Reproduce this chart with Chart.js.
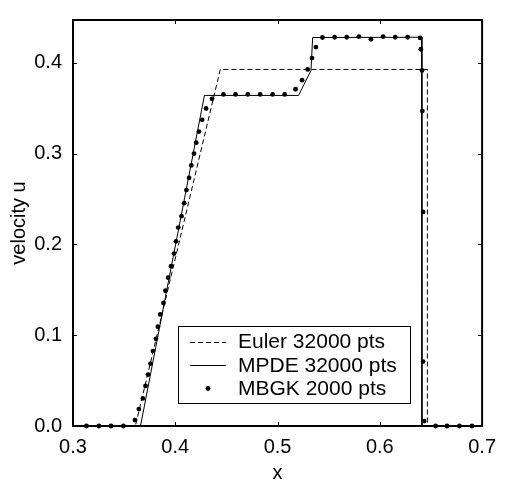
<!DOCTYPE html>
<html><head><meta charset="utf-8">
<script src="https://cdn.jsdelivr.net/npm/chart.js@4"></script>
<style>html,body{margin:0;padding:0;background:#fff}</style>
</head><body>
<canvas id="c" width="505" height="485"></canvas>
<script>
// ---- data ----
const xTicks = [0.3, 0.4, 0.5, 0.6, 0.7];
const yTicks = [0.0, 0.1, 0.2, 0.3, 0.4];
const xMin = 0.3, xMax = 0.7, yMin = 0, yMax = 0.4473;

const eulerLabel = 'Euler 32000 pts';
const eulerX = [0.3, 0.361, 0.444, 0.6465, 0.6465, 0.7];
const eulerU = [0, 0, 0.3928, 0.3928, 0, 0];

const mpdeLabel = 'MPDE 32000 pts';
const mpdeX = [0.3, 0.366, 0.4285, 0.5205, 0.5327, 0.5343, 0.6408, 0.6412, 0.7];
const mpdeU = [0, 0, 0.3642, 0.3642, 0.3917, 0.4280, 0.4283, 0, 0];

const mbgkLabel = 'MBGK 2000 pts';
const mbgkX = [0.3132, 0.3253, 0.3372, 0.3493, 0.3606, 0.3644, 0.3683, 0.3709, 0.3734, 0.3757,
  0.3782, 0.3811, 0.3830, 0.3853, 0.3885, 0.3904, 0.3930, 0.3959, 0.3988, 0.4007,
  0.4029, 0.4061, 0.4087, 0.4109, 0.4135, 0.4157, 0.4183, 0.4205, 0.4231, 0.4263,
  0.4301, 0.4359, 0.4471, 0.4589, 0.4709, 0.4830, 0.4952, 0.5070, 0.5176, 0.5240,
  0.5295, 0.5337, 0.5375, 0.5439, 0.5558, 0.5676, 0.5795, 0.5913, 0.6032, 0.6151,
  0.6272, 0.6394, 0.6401, 0.6413, 0.6416, 0.6423, 0.6423, 0.6433, 0.6545, 0.6657,
  0.6779, 0.6901];
const mbgkU = [0, 0, 0, 0, 0.0065, 0.0186, 0.0304, 0.0441, 0.0567, 0.0688,
  0.0825, 0.0960, 0.1094, 0.1229, 0.1355, 0.1491, 0.1634, 0.1760, 0.1900, 0.2035,
  0.2186, 0.2312, 0.2455, 0.2599, 0.2734, 0.2871, 0.3000, 0.3122, 0.3244, 0.3373,
  0.3498, 0.3605, 0.3653, 0.3653, 0.3653, 0.3653, 0.3653, 0.3653, 0.3710, 0.3810,
  0.3928, 0.4054, 0.4175, 0.4280, 0.4283, 0.4283, 0.4290, 0.4261, 0.4290, 0.4283,
  0.4283, 0.4276, 0.4151, 0.3917, 0.3470, 0.2358, 0.0710, 0.0054, 0, 0,
  0, 0];

const toPts = (xs, ys) => xs.map((x, i) => ({x: x, y: ys[i]}));
const FONT = '"Liberation Sans", Arial, Helvetica, sans-serif';

const framePlugin = {
  id: 'frame',
  beforeDatasetsDraw(chart) {
    const {ctx, chartArea: a, scales: {x, y}} = chart;
    ctx.save();
    ctx.strokeStyle = '#000';
    ctx.lineWidth = 1;
    const tl = 4;
    ctx.beginPath();
    xTicks.forEach(v => {
      const px = Math.round(x.getPixelForValue(v)) + 0.5;
      ctx.moveTo(px, a.bottom); ctx.lineTo(px, a.bottom - tl);
      ctx.moveTo(px, a.top); ctx.lineTo(px, a.top + tl);
    });
    yTicks.forEach(v => {
      const py = Math.round(y.getPixelForValue(v)) + 0.5;
      ctx.moveTo(a.left, py); ctx.lineTo(a.left + tl, py);
      ctx.moveTo(a.right, py); ctx.lineTo(a.right - tl, py);
    });
    ctx.stroke();
    ctx.lineWidth = 2;
    ctx.strokeRect(a.left, a.top, a.right - a.left, a.bottom - a.top);
    ctx.restore();
  }
};

const legendPlugin = {
  id: 'boxLegend',
  afterDraw(chart) {
    const ctx = chart.ctx;
    const bx = 178, by = 326, bw = 232, bh = 77;
    ctx.save();
    ctx.fillStyle = '#fff';
    ctx.fillRect(bx, by, bw, bh);
    ctx.strokeStyle = '#000';
    ctx.lineWidth = 1;
    ctx.strokeRect(bx + 0.5, by + 0.5, bw, bh);
    const rows = [341.7, 365, 388.3];
    chart.data.datasets.forEach((ds, i) => {
      const ry = Math.round(rows[i]) + 0.5;
      ctx.strokeStyle = '#000';
      ctx.fillStyle = '#000';
      if (ds.showLine) {
        ctx.lineWidth = 1;
        ctx.setLineDash(ds.borderDash || []);
        ctx.beginPath();
        ctx.moveTo(190, ry); ctx.lineTo(226, ry);
        ctx.stroke();
        ctx.setLineDash([]);
      } else {
        ctx.beginPath();
        ctx.arc(208, ry, ds.pointRadius, 0, Math.PI * 2);
        ctx.fill();
      }
      ctx.font = '21px ' + FONT;
      ctx.textAlign = 'left';
      ctx.textBaseline = 'middle';
      ctx.fillText(ds.label, 238, rows[i] + 1);
    });
    ctx.restore();
  }
};

new Chart(document.getElementById('c'), {
  type: 'scatter',
  data: {
    datasets: [
      {label: eulerLabel, data: toPts(eulerX, eulerU), showLine: true, borderColor: '#000',
       borderWidth: 1, borderDash: [5, 3], pointRadius: 0, fill: false, clip: false},
      {label: mpdeLabel, data: toPts(mpdeX, mpdeU), showLine: true, borderColor: '#000',
       borderWidth: 1, pointRadius: 0, fill: false, clip: false},
      {label: mbgkLabel, data: toPts(mbgkX, mbgkU), showLine: false, pointRadius: 2.4,
       pointBackgroundColor: '#000', pointBorderColor: '#000', pointBorderWidth: 0, clip: false}
    ]
  },
  options: {
    responsive: false,
    animation: false,
    devicePixelRatio: 1,
    layout: {padding: {left: 0, right: 16, top: 10, bottom: 0}},
    plugins: {legend: {display: false}, tooltip: {enabled: false}},
    elements: {line: {tension: 0}},
    scales: {
      x: {
        type: 'linear', min: xMin, max: xMax,
        afterBuildTicks: s => { s.ticks = xTicks.map(v => ({value: v})); },
        afterFit: s => { s.height = 59; },
        grid: {display: false, drawTicks: false, tickLength: 0},
        border: {display: false},
        ticks: {color: '#000', font: {family: FONT, size: 20}, padding: 9, maxRotation: 0,
                autoSkip: false, callback: v => Number(v).toFixed(1)},
        title: {display: true, text: 'x', color: '#000', font: {family: FONT, size: 20},
                padding: {top: 0, bottom: 0}}
      },
      y: {
        type: 'linear', min: yMin, max: yMax,
        afterBuildTicks: s => { s.ticks = yTicks.map(v => ({value: v})); },
        afterFit: s => { s.width = 73; },
        grid: {display: false, drawTicks: false, tickLength: 0},
        border: {display: false},
        ticks: {color: '#000', font: {family: FONT, size: 20, lineHeight: 0.9}, padding: 11,
                autoSkip: false, callback: v => Number(v).toFixed(1)},
        title: {display: true, text: 'velocity u', color: '#000', font: {family: FONT, size: 20},
                padding: {top: 7, bottom: 0}}
      }
    }
  },
  plugins: [framePlugin, legendPlugin]
});
</script>
</body></html>
